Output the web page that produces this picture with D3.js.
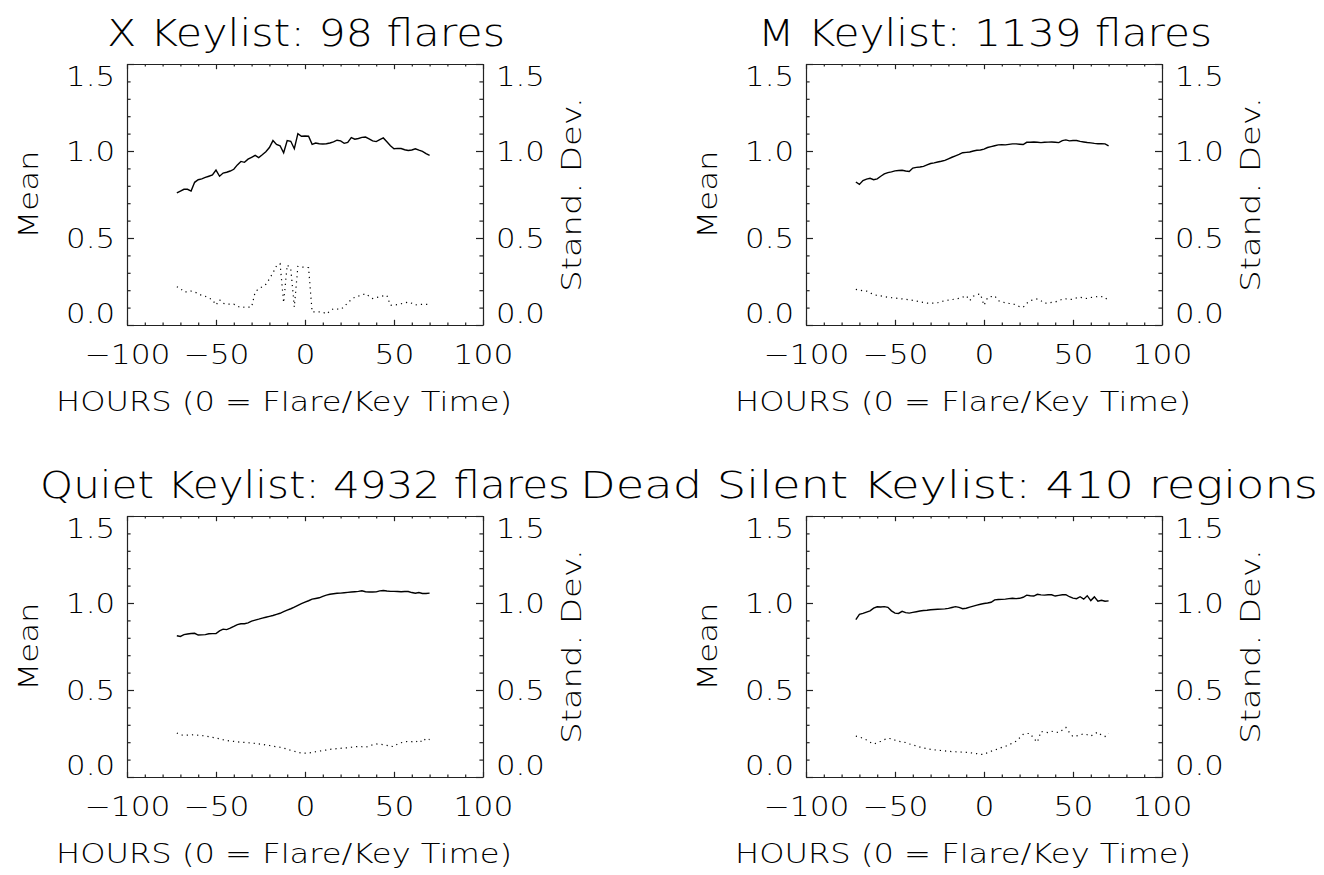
<!DOCTYPE html>
<html>
<head>
<meta charset="utf-8">
<script src="https://cdn.jsdelivr.net/npm/d3@7"></script>
<style>
  body { margin: 0; background: #fff; }
  svg text { font-family: "DejaVu Sans", "Liberation Sans", sans-serif; font-weight: 200; fill: #000; }
  .axis path, .axis line { stroke: #222; stroke-width: 1.2; }
</style>
</head>
<body>
<div id="chart"></div>
<script>
// hours relative to flare / key time
var hours = [-72,-70,-68,-66,-64,-62,-60,-58,-56,-54,-52,-50,-48,-46,-44,-42,-40,-38,-36,-34,-32,-30,-28,-26,
  -24,-22,-20,-18,-16,-14,-12,-10,-8,-6,-4,-2,0,2,4,6,8,10,12,14,16,18,20,22,24,26,28,30,32,34,36,38,40,42,
  44,46,48,50,52,54,56,58,60,62,64,66,68,70];

// X keylist
var xMean = [0.76,0.77,0.78,0.78,0.77,0.82,0.835,0.84,0.848,0.855,0.862,0.89,0.855,0.873,0.878,0.885,0.895,0.92,
  0.94,0.935,0.953,0.964,0.975,0.962,0.978,0.996,1.02,1.06,1.038,1.03,0.99,1.06,1.056,1.013,1.10,1.085,1.086,1.085,
  1.038,1.046,1.042,1.04,1.042,1.046,1.052,1.062,1.058,1.044,1.05,1.077,1.068,1.072,1.078,1.08,1.07,1.058,1.054,
  1.065,1.075,1.053,1.03,1.013,1.015,1.014,1.007,1.003,1.006,1.013,1.005,0.998,0.985,0.975];
var xStd = [0.22,0.21,0.19,0.19,0.195,0.19,0.18,0.17,0.165,0.155,0.145,0.115,0.145,0.125,0.12,0.12,0.12,0.108,
  0.1,0.103,0.103,0.103,0.19,0.208,0.22,0.234,0.265,0.30,0.34,0.352,0.128,0.345,0.324,0.103,0.337,0.333,0.332,0.33,
  0.075,0.075,0.075,0.074,0.063,0.08,0.094,0.092,0.09,0.105,0.128,0.145,0.16,0.166,0.173,0.18,0.165,0.152,0.157,
  0.163,0.167,0.17,0.113,0.115,0.117,0.122,0.127,0.132,0.125,0.115,0.118,0.118,0.119,0.119];

// M keylist
var mMean = [0.822,0.808,0.83,0.838,0.843,0.835,0.84,0.855,0.868,0.876,0.88,0.886,0.888,0.889,0.885,0.882,0.902,
  0.906,0.908,0.912,0.92,0.928,0.932,0.937,0.941,0.946,0.955,0.964,0.972,0.98,0.99,0.992,0.994,1.0,1.004,1.006,
  1.011,1.02,1.025,1.03,1.035,1.036,1.035,1.038,1.041,1.041,1.039,1.037,1.05,1.05,1.052,1.05,1.048,1.05,1.051,
  1.052,1.05,1.048,1.06,1.064,1.058,1.06,1.06,1.055,1.052,1.049,1.047,1.044,1.042,1.042,1.041,1.03];
var mStd = [0.205,0.2,0.197,0.195,0.185,0.175,0.17,0.167,0.163,0.16,0.157,0.155,0.152,0.15,0.148,0.145,0.142,
  0.138,0.133,0.13,0.126,0.126,0.126,0.128,0.134,0.14,0.143,0.146,0.15,0.153,0.16,0.169,0.14,0.165,0.175,0.178,
  0.113,0.157,0.163,0.168,0.14,0.133,0.128,0.124,0.122,0.115,0.105,0.102,0.125,0.14,0.145,0.15,0.14,0.125,0.126,
  0.13,0.132,0.14,0.148,0.15,0.147,0.148,0.156,0.16,0.155,0.152,0.158,0.161,0.164,0.163,0.16,0.135];

// Quiet keylist
var quietMean = [0.812,0.808,0.818,0.822,0.825,0.826,0.816,0.817,0.818,0.823,0.824,0.824,0.84,0.85,0.847,0.855,
  0.865,0.876,0.881,0.881,0.886,0.896,0.902,0.907,0.913,0.918,0.923,0.928,0.935,0.941,0.95,0.959,0.967,0.976,0.987,
  0.997,1.005,1.013,1.022,1.026,1.03,1.038,1.045,1.05,1.053,1.056,1.057,1.059,1.061,1.063,1.065,1.067,1.07,1.065,
  1.063,1.063,1.064,1.07,1.072,1.069,1.067,1.067,1.066,1.065,1.066,1.066,1.06,1.056,1.06,1.055,1.055,1.057];
var quietStd = [0.253,0.242,0.24,0.241,0.243,0.242,0.24,0.238,0.236,0.232,0.228,0.224,0.219,0.214,0.21,0.207,
  0.205,0.202,0.2,0.199,0.197,0.195,0.193,0.19,0.187,0.184,0.181,0.177,0.174,0.171,0.166,0.16,0.153,0.148,0.142,
  0.138,0.137,0.138,0.141,0.145,0.149,0.152,0.155,0.159,0.161,0.163,0.165,0.167,0.168,0.171,0.173,0.176,0.174,
  0.171,0.178,0.185,0.19,0.188,0.186,0.182,0.176,0.175,0.19,0.197,0.202,0.205,0.203,0.199,0.213,0.2,0.222,0.215];

// Dead silent keylist
var silentMean = [0.905,0.935,0.94,0.948,0.955,0.97,0.978,0.977,0.979,0.975,0.955,0.942,0.94,0.952,0.945,0.942,
  0.946,0.95,0.954,0.957,0.958,0.961,0.963,0.964,0.965,0.966,0.969,0.974,0.979,0.975,0.967,0.97,0.976,0.982,0.988,
  0.993,0.997,1.0,1.004,1.018,1.02,1.021,1.022,1.025,1.027,1.025,1.027,1.033,1.045,1.042,1.04,1.05,1.047,1.045,
  1.047,1.047,1.04,1.044,1.047,1.048,1.036,1.028,1.025,1.036,1.022,1.042,1.014,1.035,1.01,1.016,1.01,1.012];
var silentStd = [0.235,0.23,0.222,0.213,0.2,0.19,0.196,0.205,0.215,0.222,0.22,0.212,0.205,0.202,0.198,0.19,0.185,
  0.178,0.172,0.167,0.163,0.159,0.156,0.154,0.152,0.15,0.148,0.146,0.145,0.144,0.143,0.142,0.14,0.137,0.134,0.13,
  0.13,0.14,0.148,0.155,0.162,0.17,0.176,0.185,0.195,0.205,0.225,0.245,0.25,0.25,0.22,0.2,0.262,0.258,0.255,0.263,
  0.258,0.256,0.27,0.285,0.255,0.232,0.236,0.242,0.248,0.243,0.235,0.248,0.258,0.24,0.233,0.252];

var titles = ["X Keylist: 98 flares", "M Keylist: 1139 flares", "Quiet Keylist: 4932 flares",
  "Dead Silent Keylist: 410 regions"];
var xTicks = [-100, -50, 0, 50, 100];
var yTicks = [0, 0.5, 1.0, 1.5];

var width = 1324, height = 875;
var plotW = 356, plotH = 261;

var panels = [
  {title: titles[0], mean: xMean, std: xStd, left: 127, top: 64, titleX: 306, titleW: 398},
  {title: titles[1], mean: mMean, std: mStd, left: 806, top: 64, titleX: 985, titleW: 454},
  {title: titles[2], mean: quietMean, std: quietStd, left: 127, top: 516, titleX: 305, titleW: 530},
  {title: titles[3], mean: silentMean, std: silentStd, left: 806, top: 516, titleX: 949, titleW: 738}
];

var svg = d3.select("#chart").append("svg")
  .attr("width", width)
  .attr("height", height);

var x = d3.scaleLinear().domain([-100, 100]).range([0, plotW]);
var y = d3.scaleLinear().domain([0, 1.5]).range([plotH, 0]);

var minorX = d3.range(-90, 100, 10).filter(d => d % 50 != 0);
var minorY = d3.range(1, 15).filter(d => d % 5 != 0).map(d => d / 10);

var fmtY = d3.format(".1f");

// the plot font is wider than DejaVu, so widen every label a bit
function stretch(sel, f) {
  sel.each(function() {
    var w = this.getComputedTextLength();
    d3.select(this).attr("textLength", w * f).attr("lengthAdjust", "spacingAndGlyphs");
  });
}

function shiftEnds(axisG) {
  // end labels sit inside the box like the original
  axisG.selectAll(".tick text")
    .attr("dy", d => d == 1.5 ? "0.78em" : d == 0 ? "-0.1em" : "0.36em");
}

panels.forEach(function(p) {

  var g = svg.append("g")
    .attr("transform", "translate(" + p.left + "," + p.top + ")");

  // minor ticks
  g.append("g").attr("class", "axis").attr("transform", "translate(0," + plotH + ")")
    .call(d3.axisBottom(x).tickValues(minorX).tickSize(-2.6).tickFormat(""))
    .select(".domain").remove();
  g.append("g").attr("class", "axis")
    .call(d3.axisTop(x).tickValues(minorX).tickSize(-2.6).tickFormat(""))
    .select(".domain").remove();
  g.append("g").attr("class", "axis")
    .call(d3.axisLeft(y).tickValues(minorY).tickSize(-3.6).tickFormat(""))
    .select(".domain").remove();
  g.append("g").attr("class", "axis").attr("transform", "translate(" + plotW + ",0)")
    .call(d3.axisRight(y).tickValues(minorY).tickSize(-3.6).tickFormat(""))
    .select(".domain").remove();

  // major axes
  var xAxis = g.append("g").attr("class", "axis")
    .attr("transform", "translate(0," + plotH + ")")
    .call(d3.axisBottom(x).tickValues(xTicks).tickSize(-5.2).tickSizeOuter(0).tickPadding(20));
  xAxis.selectAll("text").attr("font-size", 27);
  stretch(xAxis.selectAll("text"), 1.16);

  g.append("g").attr("class", "axis")
    .call(d3.axisTop(x).tickValues(xTicks).tickSize(-5.2).tickSizeOuter(0).tickFormat(""));

  var yAxis = g.append("g").attr("class", "axis")
    .call(d3.axisLeft(y).tickValues(yTicks).tickSize(-7).tickSizeOuter(0).tickPadding(12).tickFormat(fmtY));
  yAxis.selectAll("text").attr("font-size", 27);
  shiftEnds(yAxis);
  stretch(yAxis.selectAll("text"), 1.14);

  var y2Axis = g.append("g").attr("class", "axis")
    .attr("transform", "translate(" + plotW + ",0)")
    .call(d3.axisRight(y).tickValues(yTicks).tickSize(-7).tickSizeOuter(0).tickPadding(13).tickFormat(fmtY));
  y2Axis.selectAll("text").attr("font-size", 27);
  shiftEnds(y2Axis);
  stretch(y2Axis.selectAll("text"), 1.14);

  g.selectAll(".axis text").attr("fill", "#000");

  // lines
  var line = d3.line()
    .x((d, i) => x(hours[i]))
    .y(d => y(d));

  g.append("path")
    .datum(p.mean)
    .attr("fill", "none")
    .attr("stroke", "#000")
    .attr("stroke-width", 1.4)
    .attr("d", line);

  g.append("path")
    .datum(p.std)
    .attr("fill", "none")
    .attr("stroke", "#000")
    .attr("stroke-width", 1.2)
    .attr("stroke-dasharray", "1.2,4")
    .attr("d", line);

  // titles and labels
  var title = svg.append("text")
    .attr("x", p.titleX)
    .attr("y", p.top - 18)
    .attr("text-anchor", "middle")
    .attr("font-size", 37)
    .text(p.title);
  stretch(title, p.titleW / title.node().getComputedTextLength());

  var meanLab = g.append("text")
    .attr("transform", "translate(-99," + (plotH / 2) + ") rotate(-90)")
    .attr("text-anchor", "middle")
    .attr("dy", "0.36em")
    .attr("font-size", 27)
    .text("Mean");
  stretch(meanLab, 1.2);

  var sdLab = g.append("text")
    .attr("transform", "translate(" + (plotW + 88) + "," + (plotH / 2) + ") rotate(-90)")
    .attr("text-anchor", "middle")
    .attr("dy", "0.36em")
    .attr("font-size", 27)
    .text("Stand. Dev.");
  stretch(sdLab, 1.25);

  var hourLab = g.append("text")
    .attr("x", plotW / 2 - 21)
    .attr("y", plotH + 86)
    .attr("text-anchor", "middle")
    .attr("font-size", 27)
    .text("HOURS (0 = Flare/Key Time)");
  stretch(hourLab, 1.19);
});
</script>
</body>
</html>
